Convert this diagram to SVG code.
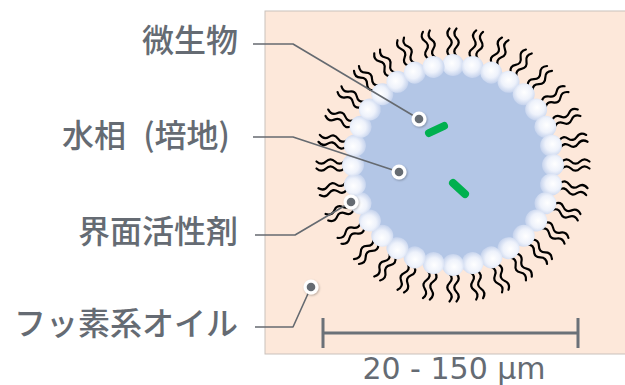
<svg xmlns="http://www.w3.org/2000/svg" xmlns:xlink="http://www.w3.org/1999/xlink" width="625" height="385" viewBox="0 0 625 385">
  <style>
    .label { font-family: "Noto Sans CJK JP", "Noto Sans", sans-serif; font-size: 32px; font-weight: 500; fill: #656b73; }
    .scale-text { font-family: "DejaVu Sans", "Liberation Sans", sans-serif; font-size: 30px; fill: #656b73; text-anchor: middle; }
    .leader { fill: none; stroke: #656a70; stroke-width: 1.6; stroke-linejoin: round; }
    .scale { fill: none; stroke: #6b7178; stroke-width: 3; }
    .tail { fill: none; stroke: #000; stroke-width: 2.2; stroke-linecap: round; }
    .rod { stroke: #00b04f; stroke-width: 8; stroke-linecap: round; }
  </style>
  <defs>
    <radialGradient id="beadFill" cx="0.45" cy="0.42" r="0.6">
      <stop offset="0" stop-color="#ffffff"/>
      <stop offset="0.55" stop-color="#eef2fb"/>
      <stop offset="1" stop-color="#c3d1ec"/>
    </radialGradient>
    <filter id="soft" x="-20%" y="-20%" width="140%" height="140%">
      <feGaussianBlur stdDeviation="0.3"/>
    </filter>
    <filter id="dotShadow" x="-50%" y="-50%" width="200%" height="200%">
      <feDropShadow dx="0.8" dy="1" stdDeviation="1" flood-color="#000" flood-opacity="0.3"/>
    </filter>
    <!-- one bead at the top of the droplet; rotated copies fill the ring -->
    <circle id="bead" cx="453" cy="65" r="11" fill="url(#beadFill)"/>
    <!-- pair of hydrophobic tails above the top bead -->
    <g id="tails">
      <path class="tail" d="M449.5 56 c-3 -3 -3 -6 0 -9 s3 -6 0 -9 s-3 -6 0 -9.5"/>
      <path class="tail" d="M456.5 56 c-3 -3 -3 -6 0 -9 s3 -6 0 -9 s-3 -6 0 -9.5"/>
    </g>
    <g id="dot">
      <circle r="7.5" fill="#fff" filter="url(#dotShadow)"/>
      <circle r="4.3" fill="#656b72"/>
    </g>
  </defs>

  <!-- background panel -->
  <rect x="265" y="11" width="370" height="343" fill="#fde8da" stroke="#c9c1bc" stroke-width="1"/>

  <!-- droplet -->
  <g id="droplet">
    <g id="surfactant-tails" filter="url(#soft)">
      <use xlink:href="#tails" transform="rotate(0 453 165)"/>
      <use xlink:href="#tails" transform="rotate(11.25 453 165)"/>
      <use xlink:href="#tails" transform="rotate(22.5 453 165)"/>
      <use xlink:href="#tails" transform="rotate(33.75 453 165)"/>
      <use xlink:href="#tails" transform="rotate(45 453 165)"/>
      <use xlink:href="#tails" transform="rotate(56.25 453 165)"/>
      <use xlink:href="#tails" transform="rotate(67.5 453 165)"/>
      <use xlink:href="#tails" transform="rotate(78.75 453 165)"/>
      <use xlink:href="#tails" transform="rotate(90 453 165)"/>
      <use xlink:href="#tails" transform="rotate(101.25 453 165)"/>
      <use xlink:href="#tails" transform="rotate(112.5 453 165)"/>
      <use xlink:href="#tails" transform="rotate(123.75 453 165)"/>
      <use xlink:href="#tails" transform="rotate(135 453 165)"/>
      <use xlink:href="#tails" transform="rotate(146.25 453 165)"/>
      <use xlink:href="#tails" transform="rotate(157.5 453 165)"/>
      <use xlink:href="#tails" transform="rotate(168.75 453 165)"/>
      <use xlink:href="#tails" transform="rotate(180 453 165)"/>
      <use xlink:href="#tails" transform="rotate(191.25 453 165)"/>
      <use xlink:href="#tails" transform="rotate(202.5 453 165)"/>
      <use xlink:href="#tails" transform="rotate(213.75 453 165)"/>
      <use xlink:href="#tails" transform="rotate(225 453 165)"/>
      <use xlink:href="#tails" transform="rotate(236.25 453 165)"/>
      <use xlink:href="#tails" transform="rotate(247.5 453 165)"/>
      <use xlink:href="#tails" transform="rotate(258.75 453 165)"/>
      <use xlink:href="#tails" transform="rotate(270 453 165)"/>
      <use xlink:href="#tails" transform="rotate(281.25 453 165)"/>
      <use xlink:href="#tails" transform="rotate(292.5 453 165)"/>
      <use xlink:href="#tails" transform="rotate(303.75 453 165)"/>
      <use xlink:href="#tails" transform="rotate(315 453 165)"/>
      <use xlink:href="#tails" transform="rotate(326.25 453 165)"/>
      <use xlink:href="#tails" transform="rotate(337.5 453 165)"/>
      <use xlink:href="#tails" transform="rotate(348.75 453 165)"/>
    </g>
    <circle id="water-phase" cx="453" cy="165" r="100" fill="#b3c6e6"/>
    <g id="surfactant-heads">
      <use xlink:href="#bead" transform="rotate(0 453 165)"/>
      <use xlink:href="#bead" transform="rotate(11.25 453 165)"/>
      <use xlink:href="#bead" transform="rotate(22.5 453 165)"/>
      <use xlink:href="#bead" transform="rotate(33.75 453 165)"/>
      <use xlink:href="#bead" transform="rotate(45 453 165)"/>
      <use xlink:href="#bead" transform="rotate(56.25 453 165)"/>
      <use xlink:href="#bead" transform="rotate(67.5 453 165)"/>
      <use xlink:href="#bead" transform="rotate(78.75 453 165)"/>
      <use xlink:href="#bead" transform="rotate(90 453 165)"/>
      <use xlink:href="#bead" transform="rotate(101.25 453 165)"/>
      <use xlink:href="#bead" transform="rotate(112.5 453 165)"/>
      <use xlink:href="#bead" transform="rotate(123.75 453 165)"/>
      <use xlink:href="#bead" transform="rotate(135 453 165)"/>
      <use xlink:href="#bead" transform="rotate(146.25 453 165)"/>
      <use xlink:href="#bead" transform="rotate(157.5 453 165)"/>
      <use xlink:href="#bead" transform="rotate(168.75 453 165)"/>
      <use xlink:href="#bead" transform="rotate(180 453 165)"/>
      <use xlink:href="#bead" transform="rotate(191.25 453 165)"/>
      <use xlink:href="#bead" transform="rotate(202.5 453 165)"/>
      <use xlink:href="#bead" transform="rotate(213.75 453 165)"/>
      <use xlink:href="#bead" transform="rotate(225 453 165)"/>
      <use xlink:href="#bead" transform="rotate(236.25 453 165)"/>
      <use xlink:href="#bead" transform="rotate(247.5 453 165)"/>
      <use xlink:href="#bead" transform="rotate(258.75 453 165)"/>
      <use xlink:href="#bead" transform="rotate(270 453 165)"/>
      <use xlink:href="#bead" transform="rotate(281.25 453 165)"/>
      <use xlink:href="#bead" transform="rotate(292.5 453 165)"/>
      <use xlink:href="#bead" transform="rotate(303.75 453 165)"/>
      <use xlink:href="#bead" transform="rotate(315 453 165)"/>
      <use xlink:href="#bead" transform="rotate(326.25 453 165)"/>
      <use xlink:href="#bead" transform="rotate(337.5 453 165)"/>
      <use xlink:href="#bead" transform="rotate(348.75 453 165)"/>
    </g>
    <!-- microorganisms -->
    <g id="microbes">
      <line class="rod" x1="429" y1="133" x2="444" y2="126"/>
      <line class="rod" x1="453" y1="183" x2="465" y2="194"/>
    </g>
  </g>

  <!-- scale bar -->
  <g id="scale-bar">
    <path class="scale" d="M323 333 H578 M323 318 V348 M578 318 V348"/>
    <text class="scale-text" x="454" y="379">20 - 150 μm</text>
  </g>

  <!-- leader lines -->
  <g id="connectors">
    <polyline class="leader" points="253,44 293,44 419,119"/>
    <polyline class="leader" points="253,137 293,137 399,172"/>
    <polyline class="leader" points="255,235 295,235 351,202"/>
    <polyline class="leader" points="255,327 293,327 311,287"/>
  </g>

  <!-- label nodes -->
  <g id="label-microbe">
    <text class="label" x="238" y="52" text-anchor="end">微生物</text>
    <use xlink:href="#dot" x="419" y="119"/>
  </g>
  <g id="label-water">
    <text class="label" x="62" y="147">水相 <tspan dx="10">(培地)</tspan></text>
    <use xlink:href="#dot" x="399" y="172"/>
  </g>
  <g id="label-surfactant">
    <text class="label" x="238" y="243" text-anchor="end">界面活性剤</text>
    <use xlink:href="#dot" x="351" y="202"/>
  </g>
  <g id="label-oil">
    <text class="label" x="238" y="335" text-anchor="end">フッ素系オイル</text>
    <use xlink:href="#dot" x="311" y="287"/>
  </g>
</svg>
